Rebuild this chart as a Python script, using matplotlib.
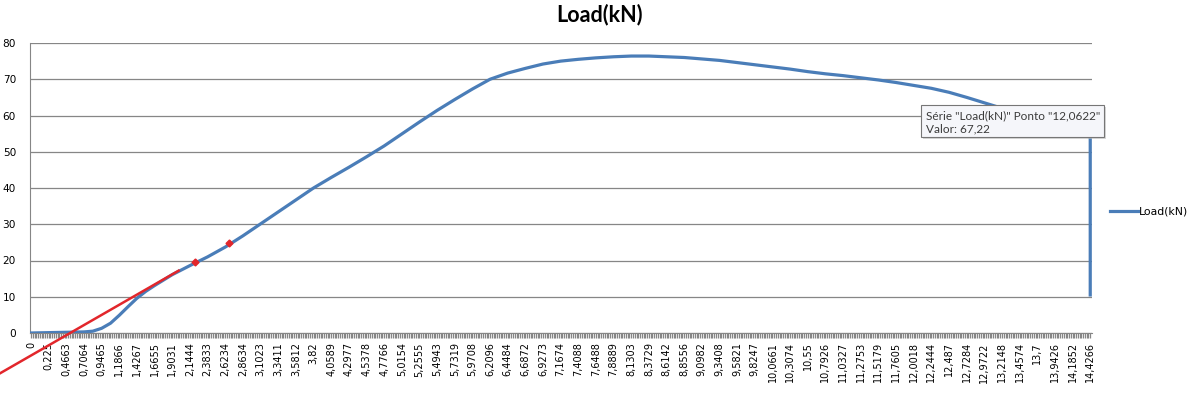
import numpy as np
import matplotlib
matplotlib.use('agg')
import matplotlib.pyplot as plt
from matplotlib.patches import Rectangle

W, H = 1193, 394

# category labels of the x axis (displacement, mm, comma decimals)
x_labels = ['0', '0,225', '0,4663', '0,7064', '0,9465', '1,1866', '1,4267', '1,6655',
            '1,9031', '2,1444', '2,3833', '2,6234', '2,8634', '3,1023', '3,3411', '3,5812',
            '3,82', '4,0589', '4,2977', '4,5378', '4,7766', '5,0154', '5,2555', '5,4943',
            '5,7319', '5,9708', '6,2096', '6,4484', '6,6872', '6,9273', '7,1674', '7,4088',
            '7,6488', '7,8889', '8,1303', '8,3729', '8,6142', '8,8556', '9,0982', '9,3408',
            '9,5821', '9,8247', '10,0661', '10,3074', '10,55', '10,7926', '11,0327', '11,2753',
            '11,5179', '11,7605', '12,0018', '12,2444', '12,487', '12,7284', '12,9722', '13,2148',
            '13,4574', '13,7', '13,9426', '14,1852', '14,4266']

# Load(kN) series
disp_mm = [0.0, 0.225, 0.4663, 0.7064, 0.826, 0.9465, 1.067, 1.1866, 1.307, 1.4267, 1.546,
           1.6655, 1.9031, 2.1444, 2.3833, 2.6234, 2.8634, 3.1023, 3.3411, 3.5812, 3.82,
           4.0589, 4.2977, 4.5378, 4.7766, 5.0154, 5.2555, 5.4943, 5.7319, 5.9708, 6.2096,
           6.4484, 6.6872, 6.9273, 7.1674, 7.4088, 7.6488, 7.8889, 8.1303, 8.3729, 8.6142,
           8.8556, 9.0982, 9.3408, 9.5821, 9.8247, 10.0661, 10.3074, 10.55, 10.7926, 11.0327,
           11.2753, 11.5179, 11.7605, 12.0018, 12.2444, 12.487, 12.7284, 12.9722, 13.2148,
           13.4574, 13.7, 13.9426, 14.1852, 14.4266, 14.4266]
load_kn = [0.0, 0.1, 0.2, 0.3, 0.5, 1.3, 2.7, 4.9, 7.3, 9.6, 11.5,
           13.1, 16.1, 18.6, 21.0, 23.7, 26.8, 30.1, 33.4, 36.7, 40.0,
           42.9, 45.7, 48.6, 51.6, 54.9, 58.2, 61.4, 64.4, 67.3, 70.0,
           71.7, 73.0, 74.2, 75.0, 75.5, 75.9, 76.2, 76.4, 76.4, 76.2,
           76.0, 75.6, 75.2, 74.6, 74.0, 73.4, 72.8, 72.1, 71.5, 71.0,
           70.4, 69.8, 69.1, 68.3, 67.5, 66.4, 65.0, 63.5, 62.0,
           60.5, 59.0, 57.4, 55.8, 54.0, 10.5]

# red tangent line and its two markers
trend_mm = [-0.45, 1.99]
trend_kn = [-11.8, 17.2]
marker_mm = [2.216, 2.671]
marker_kn = [19.6, 24.7]

tip_point = '12,0622'
tip_value = '67,22'
y_ticks = [0, 10, 20, 30, 40, 50, 60, 70, 80]

tick_vals = np.array([float(s.replace(',', '.')) for s in x_labels])
cat_idx = np.arange(len(x_labels))


def to_pos(mm):
    # map displacement onto the category axis (Excel line chart)
    mm = np.asarray(mm, dtype=float)
    pos = np.interp(mm, tick_vals, cat_idx)
    lo = mm < tick_vals[0]
    pos[lo] = (mm[lo] - tick_vals[0]) / (tick_vals[1] - tick_vals[0])
    return pos


fig = plt.figure(figsize=(W / 100, H / 100), dpi=100)
ax = fig.add_axes([30 / W, 1 - 333 / H, (1092 - 30) / W, (333 - 43) / H])

blue = '#4a7db8'
red = '#e2262b'
grey = '#868686'

ax.plot(to_pos(disp_mm), load_kn, color=blue, lw=2.3, label='Load(kN)', zorder=3)
ax.plot(to_pos(trend_mm), trend_kn, color=red, lw=1.8, clip_on=False, zorder=4)
ax.plot(to_pos(marker_mm), marker_kn, 'D', color=red, ms=3.5, zorder=5)

ax.set_xlim(-0.06, 60.1)
ax.set_ylim(0, 80)
ax.set_yticks(y_ticks)
ax.yaxis.grid(True, color=grey, lw=0.9)
ax.set_axisbelow(True)
ax.set_xticks(cat_idx)
ax.set_xticklabels(x_labels, rotation=90, fontsize=7)
ax.set_xticks(np.arange(0, 60.01, 0.1), minor=True)
ax.tick_params(axis='x', which='both', length=3.6, width=0.9, color=grey, pad=3)
ax.tick_params(axis='y', length=0, pad=10, labelsize=7.6)

ax.spines['right'].set_visible(False)
ax.spines['top'].set_visible(False)
ax.spines['left'].set_color(grey)
ax.spines['bottom'].set_color(grey)

ax.legend(loc='center left', bbox_to_anchor=(1110 / W, 1 - 211.5 / H),
          bbox_transform=fig.transFigure, frameon=False, fontsize=7.8,
          handlelength=2.6, handletextpad=0.1, borderpad=0, borderaxespad=0)

fig.text(600 / W, 1 - 15 / H, 'Load(kN)', ha='center', va='center',
         fontsize=15.5, fontweight='bold', family='Lato')

# hover tooltip
x0, y0, x1, y1 = 921, 105, 1104, 137
fig.add_artist(Rectangle(((x0 + 2) / W, 1 - (y1 + 2) / H), (x1 - x0) / W, (y1 - y0) / H,
                         transform=fig.transFigure, fc='#bdbdbd', ec='none', alpha=0.6))
fig.add_artist(Rectangle((x0 / W, 1 - y1 / H), (x1 - x0) / W, (y1 - y0) / H,
                         transform=fig.transFigure, fc='#f5f6fa', ec='#767676', lw=0.8))
fig.text(926 / W, 1 - 116 / H, 'Série "Load(kN)" Ponto "%s"' % tip_point, va='center',
         fontsize=8.5, color='#3b3b3b', family='Lato', zorder=5)
fig.text(926 / W, 1 - 129 / H, 'Valor: %s' % tip_value, va='center',
         fontsize=8.5, color='#3b3b3b', family='Lato', zorder=5)

fig.savefig('out.png', dpi=100)
